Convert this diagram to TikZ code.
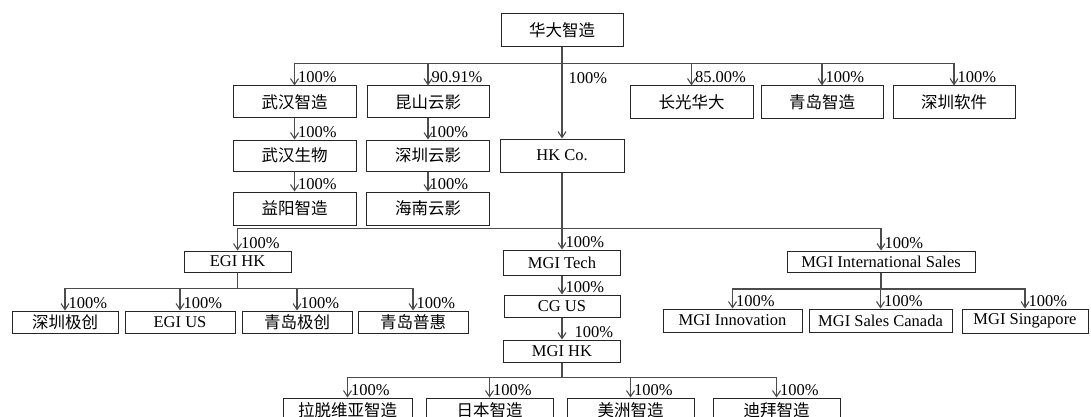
\documentclass[tikz,border=0pt]{standalone}
\usepackage{fontspec}
\setmainfont{Liberation Serif}
\newfontfamily\cjk{Noto Sans CJK SC}
\usetikzlibrary{arrows.meta, positioning}
\tikzset{
	>={Straight Barb[length=6pt,width=8pt]}, % open arrow heads
	link/.style={->, draw=black!70, line width=1.1pt}, % ownership connectors
	firm/.style={draw=black!85, fill=white, line width=1pt, inner sep=0pt,
		minimum width=122pt, minimum height=33pt, font=\fontsize{16.5}{19}\selectfont}, % company box
	cnfirm/.style={firm, font=\cjk\fontsize{16.5}{19}\selectfont}, % company box, chinese name
	pct/.style={anchor=base west, inner sep=0pt, xshift=3pt, yshift=2.5pt,
		font=\fontsize{16.5}{19}\selectfont}, % share label
}
\begin{document}
\begin{tikzpicture}[x=1pt,y=-1pt]
	\useasboundingbox (0,0) rectangle (1091,417);
	\clip (0,0) rectangle (1091,417);
	% top level
	\node[cnfirm] (hd) at (562,30.5) {华大智造};
	\node[cnfirm, minimum width=123pt, minimum height=32pt] (whzz) at (294.5,102) {武汉智造};
	\node[cnfirm, minimum height=32pt] (kszy) at (428,102) {昆山云影};
	\node[cnfirm, minimum width=123pt] (cghd) at (691.5,102.5) {长光华大};
	\node[cnfirm] (qdzz) at (822,102.5) {青岛智造};
	\node[cnfirm] (szrj) at (954,102.5) {深圳软件};
	\node[cnfirm, minimum width=123pt, minimum height=31pt] (whsw) [below=21pt of whzz] {武汉生物};
	\node[cnfirm, minimum width=123pt] (yyzz) [below=20pt of whsw] {益阳智造};
	\node[cnfirm, minimum width=123pt, minimum height=31pt] (szyy) [below=21pt of kszy] {深圳云影};
	\node[cnfirm, minimum width=123pt] (hnyy) [below=20pt of szyy] {海南云影};
	\node[firm, minimum width=124pt] (hk) at (562,155.5) {HK Co.};
	% under HK Co.
	\node[firm, minimum width=107pt, minimum height=21pt] (egihk) at (237.5,261.5) {EGI HK};
	\node[firm, minimum width=117pt, minimum height=25pt] (mgit) at (562,262.5) {MGI Tech};
	\node[firm, minimum width=188pt, minimum height=21pt] (mgiis) at (881,261.5) {MGI International Sales};
	\node[firm, minimum width=116pt, minimum height=22pt] (cgus) [below=19pt of mgit] {CG US};
	\node[firm, minimum width=117pt, minimum height=22pt] (mgihk) [below=22pt of cgus] {MGI HK};
	\node[cnfirm, minimum width=106pt, minimum height=22pt] (szjc) at (65,322) {深圳极创};
	\node[firm, minimum width=110pt, minimum height=22pt] (egius) at (180,322) {EGI US};
	\node[cnfirm, minimum width=110pt, minimum height=22pt] (qdjc) at (297,322) {青岛极创};
	\node[cnfirm, minimum width=110pt, minimum height=22pt] (qdph) at (413,322) {青岛普惠};
	\node[firm, minimum width=139pt, minimum height=23pt] (inno) at (732.5,320.5) {MGI Innovation};
	\node[firm, minimum width=143pt, minimum height=23pt] (canada) at (880.5,320.5) {MGI Sales Canada};
	\node[firm, minimum width=126pt, minimum height=24pt] (sing) at (1025,321) {MGI Singapore};
	\node[cnfirm, minimum width=129pt, minimum height=24pt] (ltwy) at (347.5,410) {拉脱维亚智造};
	\node[cnfirm, minimum width=127pt, minimum height=24pt] (jpzz) at (489.5,410) {日本智造};
	\node[cnfirm, minimum width=127pt, minimum height=24pt] (mzzz) at (630.5,410) {美洲智造};
	\node[cnfirm, minimum width=127pt, minimum height=24pt] (dbzz) at (776.5,410) {迪拜智造};
	% connectors
	\foreach \c/\p in {whzz/100\%, kszy/90.91\%, cghd/85.00\%, qdzz/100\%, szrj/100\%}
		\draw[link] (hd.south) -- ++(0,16) -| (\c.north) node[pct] {\p};
	\draw[link] (hd.south) -- node[pct, pos=0.42, xshift=3pt] {100\%} (hk.north);
	\draw[link] (whzz.south) -- (whsw.north) node[pct] {100\%};
	\draw[link] (whsw.south) -- (yyzz.north) node[pct] {100\%};
	\draw[link] (kszy.south) -- (szyy.north) node[pct, xshift=-2pt] {100\%};
	\draw[link] (szyy.south) -- (hnyy.north) node[pct, xshift=-2pt] {100\%};
	\foreach \c in {egihk, mgit, mgiis}
		\draw[link] (hk.south) -- ++(0,56) -| (\c.north) node[pct] {100\%};
	\foreach \c in {szjc, egius, qdjc, qdph}
		\draw[link] (egihk.south) -- ++(0,16) -| (\c.north) node[pct] {100\%};
	\foreach \c in {inno, canada, sing}
		\draw[link] (mgiis.south) -- ++(0,16.5) -| (\c.north) node[pct] {100\%};
	\draw[link] (mgit.south) -- (cgus.north) node[pct] {100\%};
	\draw[link] (cgus.south) -- (mgihk.north) node[pct, xshift=9pt] {100\%};
	\foreach \c in {ltwy, jpzz, mzzz, dbzz}
		\draw[link] (mgihk.south) -- ++(0,15) -| (\c.north) node[pct] {100\%};
\end{tikzpicture}
\end{document}
